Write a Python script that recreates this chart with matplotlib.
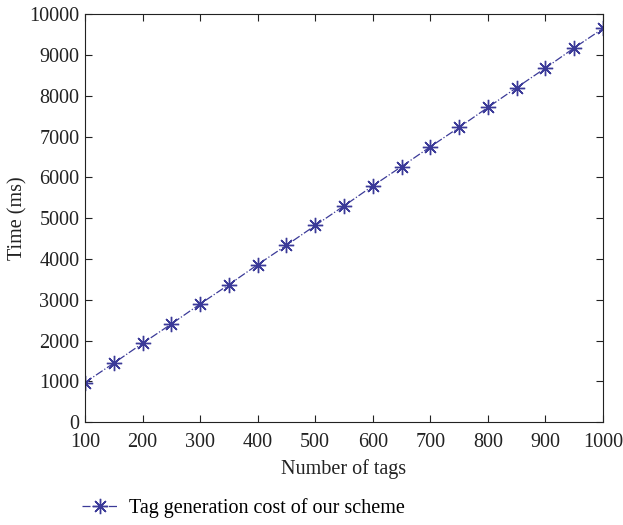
import matplotlib
matplotlib.use("Agg")
import matplotlib.pyplot as plt

num_tags = [100, 150, 200, 250, 300, 350, 400, 450, 500, 550, 600, 650, 700, 750, 800, 850, 900, 950, 1000]
time_ms = [970, 1445, 1930, 2405, 2895, 3370, 3860, 4335, 4820, 5300, 5790, 6265, 6750, 7225, 7715, 8200, 8680, 9175, 9650]
series_label = "Tag generation cost of our scheme"

plt.rcParams['font.family'] = ['Liberation Serif', 'DejaVu Serif']
plt.rcParams['font.size'] = 14.5

color = '#3b3a98'
fig = plt.figure(figsize=(6.23, 5.25), dpi=100)
ax = fig.add_axes([0.1364, 0.196, 0.968 - 0.1364, 0.973 - 0.196])
line, = ax.plot(num_tags, time_ms, linestyle='-.', color=color, linewidth=0.9,
                marker=(8, 2, 0), markersize=11, markeredgewidth=1.0,
                markeredgecolor=color, label=series_label)
ax.set_xlim(100, 1000)
ax.set_ylim(0, 10000)
ax.set_xticks(range(100, 1001, 100))
ax.set_yticks(range(0, 10001, 1000))
ax.tick_params(direction='in', top=True, right=True, length=5, width=0.8, colors='#222222', labelcolor='#222222')
ax.tick_params(axis='x', pad=8)
ax.tick_params(axis='y', pad=4)
for s in ax.spines.values():
    s.set_color('#222222')
    s.set_linewidth(0.8)
ax.set_xlabel("Number of tags", color='#222222', labelpad=5)
ax.set_ylabel("Time (ms)", color='#222222', labelpad=1)
fig.legend(handles=[line], loc='center left', bbox_to_anchor=(0.118, 0.033), frameon=False,
           handlelength=1.8, handletextpad=0.55, borderaxespad=0)
fig.savefig("out.png", dpi=100)
